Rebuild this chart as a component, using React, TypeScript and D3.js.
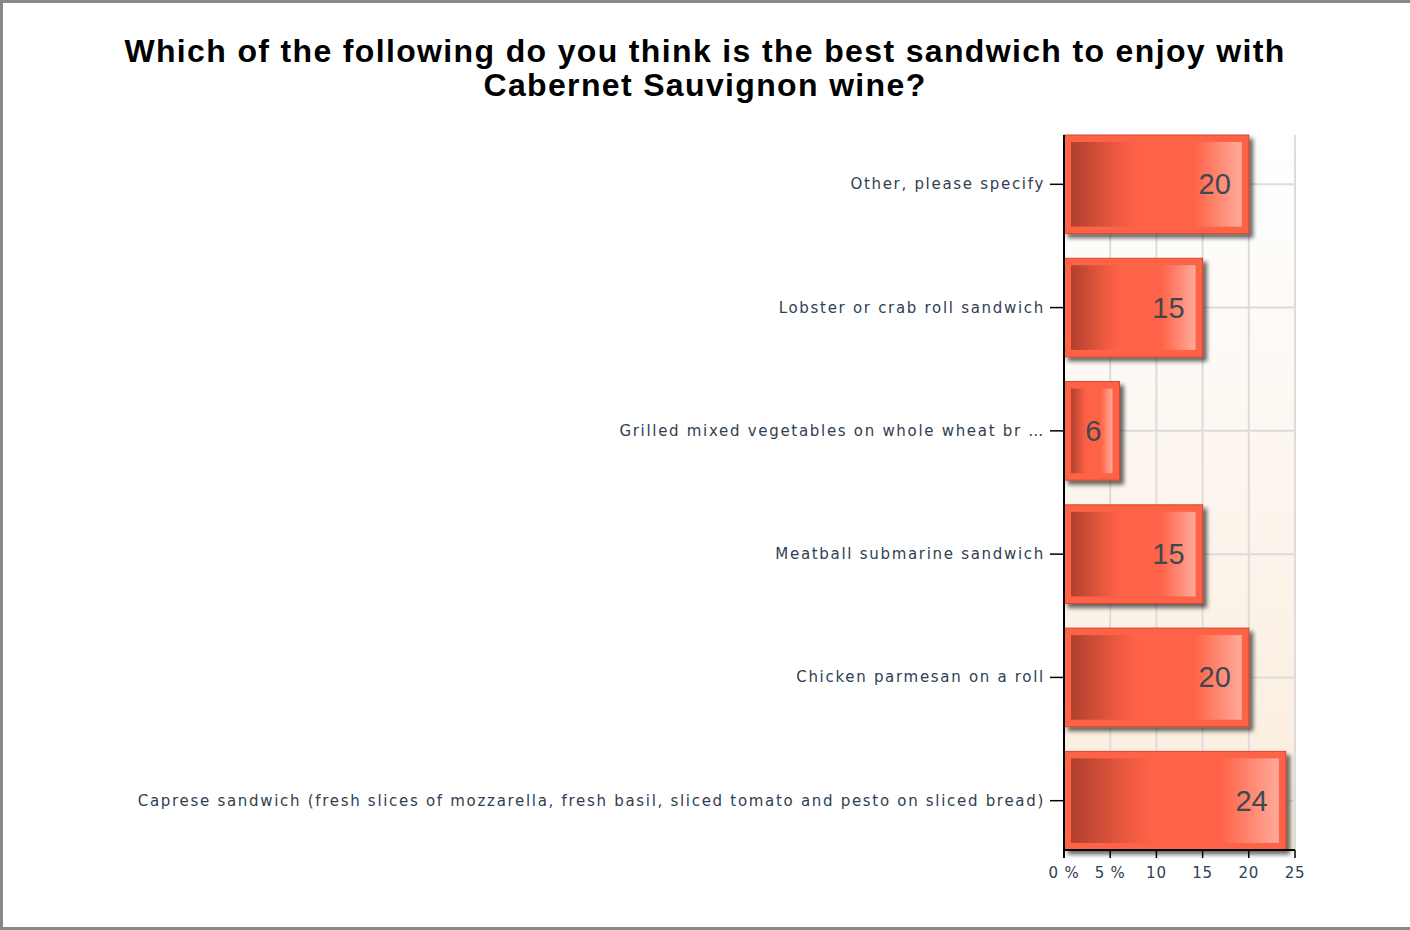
import React from "react";
import * as d3 from "d3";

const categories = [
  "Other, please specify",
  "Lobster or crab roll sandwich",
  "Grilled mixed vegetables on whole wheat br …",
  "Meatball submarine sandwich",
  "Chicken parmesan on a roll",
  "Caprese sandwich (fresh slices of mozzarella, fresh basil, sliced tomato and pesto on sliced bread)",
];
const values = [20, 15, 6, 15, 20, 24];
const tickValues = [0, 5, 10, 15, 20, 25];
const tickLabels = ["0 %", "5 %", "10", "15", "20", "25"];
const titleLines = [
  "Which of the following do you think is the best sandwich to enjoy with",
  "Cabernet Sauvignon wine?",
];

const W = 1410;
const H = 930;
const M = { left: 1064, right: 1295, top: 135, bottom: 850 };

export default function App() {
  const x = d3.scaleLinear().domain([0, 25]).range([M.left, M.right]);
  const y = d3
    .scaleBand<string>()
    .domain(categories)
    .range([M.top, M.bottom])
    .paddingInner(0.2)
    .paddingOuter(0);
  const bw = y.bandwidth();
  const inset = 7;
  const labelFont = "'DejaVu Sans', Verdana, sans-serif";
  const textColor = "#2f4052";

  return (
    <div style={{ position: "absolute", left: 0, top: 0 }}>
      <svg width={W} height={H} style={{ display: "block" }}>
        <defs>
          <linearGradient id="bg" x1="0" y1="0" x2="0" y2="1">
            <stop offset="0" stopColor="#ffffff" />
            <stop offset="1" stopColor="#faecdc" />
          </linearGradient>
          <linearGradient id="barInner" x1="0" y1="0" x2="1" y2="0">
            <stop offset="0" stopColor="#b0402d" />
            <stop offset="0.3" stopColor="#f25c42" />
            <stop offset="0.4" stopColor="#ff6347" />
            <stop offset="0.72" stopColor="#ff6347" />
            <stop offset="1" stopColor="#ffaa9a" />
          </linearGradient>
          <filter id="shadow" x="-10%" y="-10%" width="130%" height="130%">
            <feGaussianBlur in="SourceAlpha" stdDeviation="2" />
            <feOffset dx="4" dy="4" result="ob" />
            <feComponentTransfer>
              <feFuncA type="linear" slope="0.6" />
            </feComponentTransfer>
            <feMerge>
              <feMergeNode />
              <feMergeNode in="SourceGraphic" />
            </feMerge>
          </filter>
        </defs>
        <rect x={0} y={0} width={W} height={H} fill="#ffffff" />
        <rect x={1.5} y={1.5} width={W + 10} height={H - 3} fill="none" stroke="#888888" strokeWidth={3} />

        {/* title */}
        {titleLines.map((t, i) => (
          <text
            key={i}
            x={705}
            y={62 + i * 34}
            textAnchor="middle"
            fontFamily="'Liberation Sans', Arial, sans-serif"
            fontWeight="bold"
            fontSize={32}
            letterSpacing={1.35}
            fill="#000"
          >
            {t}
          </text>
        ))}

        {/* plot background */}
        <rect x={M.left} y={M.top} width={M.right - M.left} height={M.bottom - M.top} fill="url(#bg)" />

        {/* gridlines */}
        {tickValues.slice(1).map((v) => (
          <line key={"gx" + v} x1={x(v)} x2={x(v)} y1={M.top} y2={M.bottom} stroke="#dcdcdc" strokeWidth={2} />
        ))}
        {categories.map((c) => (
          <line
            key={"gy" + c}
            x1={M.left}
            x2={M.right}
            y1={(y(c) as number) + bw / 2}
            y2={(y(c) as number) + bw / 2}
            stroke="#dcdcdc"
            strokeWidth={2}
          />
        ))}

        {/* bars */}
        {categories.map((c, i) => {
          const y0 = y(c) as number;
          const x1 = x(values[i]);
          const w = x1 - M.left;
          return (
            <g key={"b" + c}>
              <g filter="url(#shadow)">
                <rect x={M.left} y={y0} width={w} height={bw} fill="#ff6347" stroke="#d9462e" strokeWidth={1} />
              </g>
              <rect x={M.left + inset} y={y0 + inset} width={w - inset * 2} height={bw - inset * 2} fill="url(#barInner)" />
              <text
                x={x1 - 18}
                y={y0 + bw / 2 + 10}
                textAnchor="end"
                fontFamily="'Liberation Sans', Arial, sans-serif"
                fontSize={29}
                fill="#3e4850"
              >
                {values[i]}
              </text>
            </g>
          );
        })}

        {/* axes */}
        <line x1={M.left} x2={M.left} y1={M.top} y2={M.bottom + 8} stroke="#000" strokeWidth={2} />
        <line x1={M.left} x2={M.right} y1={M.bottom} y2={M.bottom} stroke="#000" strokeWidth={2} />
        {tickValues.map((v, i) => (
          <g key={"t" + v}>
            <line x1={x(v)} x2={x(v)} y1={M.bottom} y2={M.bottom + 8} stroke="#000" strokeWidth={1.5} />
            <text
              x={x(v)}
              y={M.bottom + 28}
              textAnchor="middle"
              fontFamily={labelFont}
              fontSize={15}
              letterSpacing={0.8}
              fill={textColor}
            >
              {tickLabels[i]}
            </text>
          </g>
        ))}
        {categories.map((c) => {
          const cy = (y(c) as number) + bw / 2;
          return (
            <g key={"l" + c}>
              <line x1={M.left - 14} x2={M.left} y1={cy} y2={cy} stroke="#000" strokeWidth={1.5} />
              <text
                x={M.left - 19}
                y={cy + 5}
                textAnchor="end"
                fontFamily={labelFont}
                fontSize={15}
                letterSpacing={1.7}
                fill={textColor}
              >
                {c}
              </text>
            </g>
          );
        })}
      </svg>
    </div>
  );
}
